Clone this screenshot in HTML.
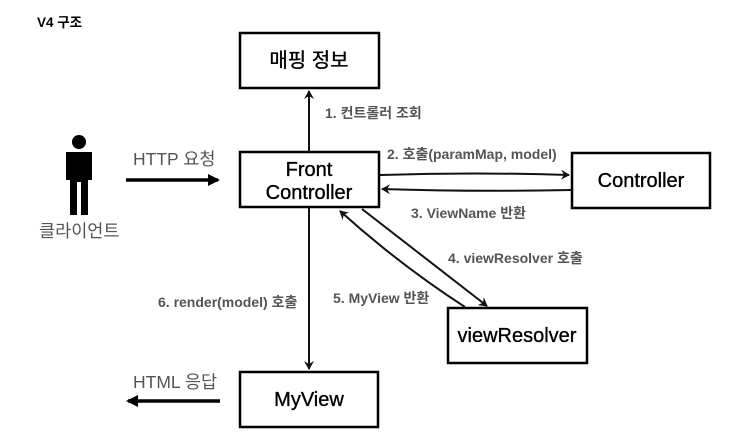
<!DOCTYPE html>
<html><head><meta charset="utf-8"><style>
body{margin:0;background:#fff;}
svg{display:block;font-family:"Liberation Sans","Noto Sans CJK KR",sans-serif;}
.b{fill:#fff;stroke:#000;stroke-width:2.5}
.t{font-size:20px;fill:#000;stroke:#000;stroke-width:0.35;text-anchor:middle}
.l{font-size:14px;font-weight:bold;fill:#555}
.g{font-size:17.5px;fill:#555}
.a{stroke:#111;stroke-width:2;fill:none}
</style></head><body>
<svg width="747" height="440" viewBox="0 0 747 440">
<defs><marker id="m" markerWidth="10" markerHeight="10" refX="8" refY="5" orient="auto" markerUnits="userSpaceOnUse"><path d="M0,0 L9,5 L0,10 L3,5z" fill="#111"/></marker>
<marker id="M" markerWidth="12" markerHeight="12" refX="10" refY="6" orient="auto" markerUnits="userSpaceOnUse"><path d="M0,0 L12,6 L0,12z" fill="#000"/></marker></defs>
<text x="37" y="27" style="font-size:13.5px;font-weight:bold">V4 구조</text>
<rect class="b" x="240" y="33" width="139" height="55"/><text class="t" x="309" y="67">매핑 정보</text>
<rect class="b" x="240" y="152" width="139" height="55"/><text class="t" x="309" y="176">Front</text><text class="t" x="309" y="199">Controller</text>
<rect class="b" x="572" y="153" width="138" height="55"/><text class="t" x="641" y="187">Controller</text>
<rect class="b" x="448" y="308" width="139" height="55"/><text class="t" x="517" y="342">viewResolver</text>
<rect class="b" x="240" y="372" width="138" height="55"/><text class="t" x="309" y="406">MyView</text>
<line class="a" x1="309" y1="152" x2="309" y2="91" marker-end="url(#m)"/>
<line class="a" x1="309" y1="207" x2="309" y2="369" marker-end="url(#m)"/>
<path class="a" d="M380,175 Q475,172 569,175" marker-end="url(#m)"/>
<path class="a" d="M571,190 Q475,192 382,189" marker-end="url(#m)"/>
<line class="a" x1="362" y1="209" x2="487" y2="306" marker-end="url(#m)"/>
<path class="a" d="M465,307 Q400,265 340,211" marker-end="url(#m)"/>
<line x1="126" y1="180" x2="218" y2="180" stroke="#000" stroke-width="3.5" marker-end="url(#M)"/>
<line x1="220" y1="401" x2="128" y2="401" stroke="#000" stroke-width="3.5" marker-end="url(#M)"/>
<text class="g" x="133" y="165">HTTP 요청</text>
<text class="g" x="133" y="388">HTML 응답</text>
<text class="g" x="39" y="237">클라이언트</text>
<circle cx="79" cy="142" r="7" fill="#000"/>
<path d="M66,152 h26 v28 h-4 v35 h-7 v-33 h-4 v33 h-7 v-35 h-4z" fill="#000"/>
<text class="l" x="325" y="118">1. 컨트롤러 조회</text>
<text class="l" x="387" y="159">2. 호출(paramMap, model)</text>
<text class="l" x="411" y="218">3. ViewName 반환</text>
<text class="l" x="448" y="263">4. viewResolver 호출</text>
<text class="l" x="333" y="303">5. MyView 반환</text>
<text class="l" x="158" y="307">6. render(model) 호출</text>
</svg>
</body></html>
